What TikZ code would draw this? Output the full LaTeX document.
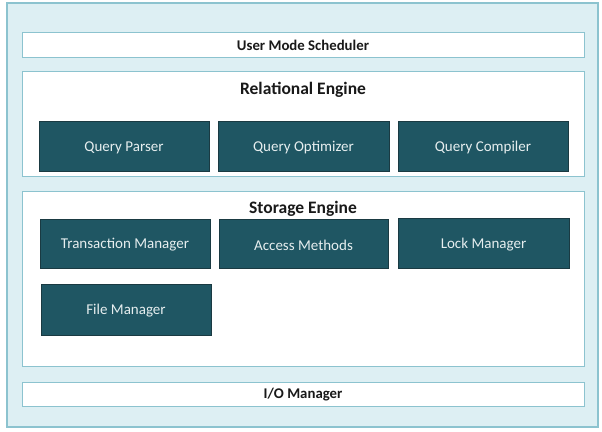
\documentclass[tikz,border=0pt]{standalone}
\usepackage{fontspec}
\setmainfont{Carlito}
\definecolor{bgblue}{HTML}{DDEFF3}
\definecolor{edgeblue}{HTML}{8CC3CF}
\definecolor{boxfill}{HTML}{1F5663}
\definecolor{boxedge}{HTML}{1A3A42}
\definecolor{boxtext}{HTML}{E6EEEF}
\begin{document}
\begin{tikzpicture}[x=1pt,y=-1pt,
  frame/.style={draw=edgeblue,line width=1.2pt,fill=bgblue},
  panel/.style={draw=edgeblue,line width=1pt,fill=white},
  comp/.style={draw=boxedge,line width=0.8pt,fill=boxfill},
  complabel/.style={text=boxtext,font=\fontsize{15}{17}\selectfont},
  title/.style={font=\bfseries\fontsize{17.5}{20}\selectfont,text=black!90},
  bar/.style={font=\bfseries\fontsize{14.8}{17}\selectfont,text=black!90}]
\useasboundingbox (0,0) rectangle (602,431);
\draw[frame] (7,3) rectangle (598,427);
% User mode scheduler
\draw[panel] (22,32) rectangle (584,57);
\node[bar] (ums) at (303,45) {User Mode Scheduler};
% Relational engine
\draw[panel] (22,71) rectangle (584,176);
\node[title] (re) at (303,90) {Relational Engine};
\draw[comp] (39,121) rectangle (209,171);
\node[complabel] (qp) at (124,147.5) {Query Parser};
\draw[comp] (218,121) rectangle (389,171);
\node[complabel] (qo) at (303.5,147.5) {Query Optimizer};
\draw[comp] (398,121) rectangle (568,171);
\node[complabel] (qc) at (483,147.5) {Query Compiler};
% Storage engine
\draw[panel] (22,191) rectangle (584,366);
\node[title] (se) at (303,209) {Storage Engine};
\draw[comp] (40,219) rectangle (210,268);
\node[complabel] (tm) at (125,245) {Transaction Manager};
\draw[comp] (219,219) rectangle (388,268);
\node[complabel] (am) at (303.5,245) {Access Methods};
\draw[comp] (398,218) rectangle (569,268);
\node[complabel] (lm) at (483.5,245) {Lock Manager};
\draw[comp] (41,284) rectangle (211,335);
\node[complabel] (fm) at (126,311) {File Manager};
% I/O manager
\draw[panel] (22,382) rectangle (584,406);
\node[bar] (io) at (303,395) {I/O Manager};
\end{tikzpicture}
\end{document}
